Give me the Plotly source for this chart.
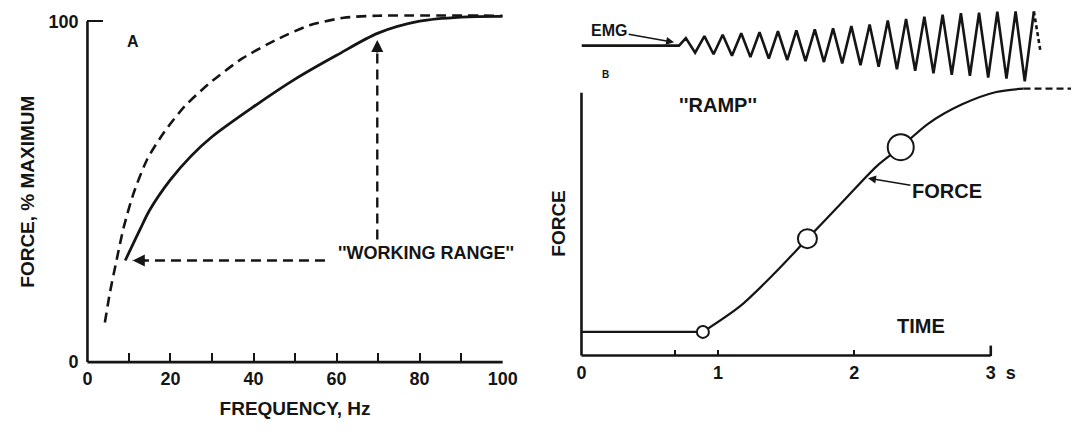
import plotly.graph_objects as go

# ---------------- Panel A data (frequency vs force, % max) ----------------
freq_solid = [9.1, 12.7, 15, 20, 25, 30, 40, 50, 60, 70, 80, 90, 100]
force_solid = [29.8, 39.0, 44.6, 53.5, 60.5, 66.1, 74.9, 83.0, 90.0, 96.5, 100.0, 101.2, 101.4]

freq_dashed = [4.2, 5.4, 7.0, 8.7, 11.1, 14.4, 18.5, 23.4, 29.1, 37.2, 45.4, 53.5, 61.7, 69.8, 100]
force_dashed = [11.6, 20.3, 29.8, 39.4, 49.5, 59.5, 67.5, 75.0, 81.5, 89.0, 94.5, 98.8, 101.0, 101.6, 101.6]

# "working range" arrows
wr_h_x = [57.2, 10.9]
wr_h_y = [29.8, 29.8]
wr_v_x = [69.8, 69.8]
wr_v_y = [36.0, 93.5]

freq_ticks = [0, 10, 20, 30, 40, 50, 60, 70, 80, 90, 100]
freq_ticktext = ["0", "", "20", "", "40", "", "60", "", "80", "", "100"]

# ---------------- Panel B data (ramp force vs time) ----------------
t_flat = [0, 0.89]
f_flat = [9.0, 9.0]
t_ramp = [0.89, 1.163, 1.413, 1.656, 1.914, 2.165, 2.34, 2.54, 2.79, 3.04, 3.24]
f_ramp = [9.0, 18.8, 31.2, 44.5, 58.5, 72.1, 79.3, 88.2, 95.6, 100.3, 101.6]
t_plateau = [3.24, 3.588]
f_plateau = [101.6, 101.6]

t_circles = [0.89, 1.656, 2.34]
f_circles = [9.0, 44.5, 79.3]
circle_sizes = [12, 19, 26]

time_ticks = [0, 0.685, 1, 2, 3]
time_ticktext = ["0", "", "1", "2", "\u00a0\u00a0\u00a0\u00a03\u00a0\u00a0s"]

# EMG trace (time s, arbitrary amplitude)
emg_t = [0, 0.715, 0.765, 0.833, 0.901, 0.968, 1.035, 1.103, 1.171, 1.238, 1.305, 1.373,
         1.440, 1.508, 1.575, 1.642, 1.710, 1.777, 1.844, 1.911, 1.978, 2.045, 2.112,
         2.178, 2.245, 2.312, 2.379, 2.446, 2.513, 2.580, 2.647, 2.714, 2.781, 2.847,
         2.914, 2.981, 3.048, 3.115, 3.182, 3.249, 3.316]
emg_v = [0, 0, 7.7, -7.3, 9.7, -8.8, 11.2, -10.3, 12.7, -11.8, 13.7, -13.3,
         14.7, -14.8, 15.7, -15.8, 16.7, -16.8, 17.7, -18.3, 20.0, -20.0, 21.7,
         -21.6, 25.7, -24.3, 27.2, -25.8, 29.7, -28.3, 31.7, -30.0, 33.2, -30.8,
         33.7, -32.8, 34.7, -33.8, 35.0, -36.6, 35.0]
emg_tail_t = [3.316, 3.365]
emg_tail_v = [35.0, -6.6]

INK = "#151515"
FONT = "Liberation Sans"
DASH = "10px,6px"

# axis ranges / domains
XA_RANGE = [0, 100]
YA_RANGE = [0, 104]
XB_RANGE = [0, 3.588]
YB_RANGE = [0, 103]

fig = go.Figure()

# Panel A traces
fig.add_trace(go.Scatter(x=freq_dashed, y=force_dashed, mode="lines", xaxis="x", yaxis="y",
                         line=dict(color=INK, width=2.6, dash=DASH, shape="spline", smoothing=0.7),
                         showlegend=False, hoverinfo="skip"))
fig.add_trace(go.Scatter(x=freq_solid, y=force_solid, mode="lines", xaxis="x", yaxis="y",
                         line=dict(color=INK, width=2.8, shape="spline", smoothing=0.9),
                         showlegend=False, hoverinfo="skip"))
fig.add_trace(go.Scatter(x=wr_h_x, y=wr_h_y, mode="lines", xaxis="x", yaxis="y",
                         line=dict(color=INK, width=2.4, dash=DASH),
                         showlegend=False, hoverinfo="skip"))
fig.add_trace(go.Scatter(x=wr_v_x, y=wr_v_y, mode="lines", xaxis="x", yaxis="y",
                         line=dict(color=INK, width=2.4, dash=DASH),
                         showlegend=False, hoverinfo="skip"))

# Panel B traces
fig.add_trace(go.Scatter(x=t_flat, y=f_flat, mode="lines", xaxis="x2", yaxis="y2",
                         line=dict(color=INK, width=2.2), showlegend=False, hoverinfo="skip"))
fig.add_trace(go.Scatter(x=t_ramp, y=f_ramp, mode="lines", xaxis="x2", yaxis="y2",
                         line=dict(color=INK, width=2.2, shape="spline", smoothing=0.8),
                         showlegend=False, hoverinfo="skip"))
fig.add_trace(go.Scatter(x=t_plateau, y=f_plateau, mode="lines", xaxis="x2", yaxis="y2",
                         line=dict(color=INK, width=2.2, dash="7px,4px"),
                         showlegend=False, hoverinfo="skip"))
fig.add_trace(go.Scatter(x=t_circles, y=f_circles, mode="markers", xaxis="x2", yaxis="y2",
                         opacity=1,
                         marker=dict(symbol="circle", size=circle_sizes, color="#ffffff",
                                     opacity=1, line=dict(color=INK, width=2)),
                         showlegend=False, hoverinfo="skip", cliponaxis=False))
fig.add_trace(go.Scatter(x=emg_t, y=emg_v, mode="lines", xaxis="x3", yaxis="y3",
                         line=dict(color=INK, width=2.6), showlegend=False, hoverinfo="skip"))
fig.add_trace(go.Scatter(x=emg_tail_t, y=emg_tail_v, mode="lines", xaxis="x3", yaxis="y3",
                         line=dict(color=INK, width=2.6, dash="4px,3px"),
                         showlegend=False, hoverinfo="skip"))

tickfont = dict(family=FONT, size=18, color=INK, weight="bold")
titlefont = dict(family=FONT, size=19, color=INK, weight="bold")

ya100 = 100 / YA_RANGE[1]
xb3 = 3 / XB_RANGE[1]
yb100 = 100 / YB_RANGE[1]
yb_tick3 = 3.8 / YB_RANGE[1]
AX = dict(color=INK, width=2.6)
# axis lines drawn as (unclipped) domain-referenced shapes so they stop at the labelled ends
shapes = [
    dict(type="line", xref="x domain", yref="y domain", x0=0, y0=0, x1=0, y1=ya100, line=AX),
    dict(type="line", xref="x domain", yref="y domain", x0=0, y0=0, x1=1, y1=0, line=AX),
    dict(type="line", xref="x2 domain", yref="y2 domain", x0=0, y0=0, x1=0, y1=yb100, line=AX),
    dict(type="line", xref="x2 domain", yref="y2 domain", x0=0, y0=0, x1=xb3, y1=0, line=AX),
    dict(type="line", xref="x2 domain", yref="y2 domain", x0=xb3, y0=0, x1=xb3, y1=yb_tick3, line=AX),
]

annotations = [
    dict(text="A", x=10.9, y=93.9, xref="x", yref="y", showarrow=False,
         font=dict(family=FONT, size=16, color=INK, weight="bold")),
    dict(text="''WORKING RANGE''", x=81.5, y=31.9, xref="x", yref="y", showarrow=False,
         font=dict(family=FONT, size=18, color=INK, weight="bold")),
    # arrowheads of the working-range arrows
    dict(text="", x=10.9, y=29.8, xref="x", yref="y", ax=14, ay=0, showarrow=True,
         arrowhead=2, arrowsize=1.1, arrowwidth=2.2, arrowcolor=INK),
    dict(text="", x=69.8, y=94.5, xref="x", yref="y", ax=0, ay=14, showarrow=True,
         arrowhead=2, arrowsize=1.1, arrowwidth=2.2, arrowcolor=INK),
    dict(text="FORCE, % MAXIMUM", x=23 / 1086, y=1 - 196.7 / 432, xref="paper", yref="paper",
         xanchor="center", yanchor="middle",
         showarrow=False, textangle=-90, font=titlefont),
    dict(text="FORCE", x=564.4 / 1086, y=1 - 229 / 432, xref="paper", yref="paper",
         xanchor="center", yanchor="middle",
         showarrow=False, textangle=-90, font=titlefont),
    dict(text="B", x=611.4 / 1086, y=1 - 76 / 432, xref="paper", yref="paper", showarrow=False,
         xanchor="center", yanchor="middle",
         font=dict(family=FONT, size=10, color=INK, weight="bold")),
    dict(text="''RAMP''", x=1.0, y=95.2, xref="x2", yref="y2", showarrow=False,
         font=dict(family=FONT, size=20, color=INK, weight="bold")),
    dict(text="TIME", x=2.49, y=11.4, xref="x2", yref="y2", showarrow=False,
         font=dict(family=FONT, size=20, color=INK, weight="bold")),
    dict(text="FORCE", x=2.10, y=67.5, xref="x2", yref="y2", ax=79, ay=13,
         showarrow=True, arrowhead=2, arrowsize=1, arrowwidth=1.6, arrowcolor=INK,
         font=dict(family=FONT, size=20, color=INK, weight="bold")),
    dict(text="EMG", x=681.7 / 1086, y=1 - 43.3 / 432, xref="paper", yref="paper",
         ax=-65, ay=-11.6, showarrow=True, arrowhead=2, arrowsize=1, arrowwidth=1.6,
         arrowcolor=INK, font=dict(family=FONT, size=16, color=INK, weight="bold")),
]

fig.update_layout(
    width=1086, height=432,
    margin=dict(l=0, r=0, t=0, b=0),
    paper_bgcolor="white", plot_bgcolor="white",
    showlegend=False,
    xaxis=dict(domain=[84 / 1086, 507 / 1086], range=XA_RANGE, showgrid=False, zeroline=False,
               showline=False, ticks="inside", ticklen=9, tickwidth=2.4, tickcolor=INK,
               tickvals=freq_ticks, ticktext=freq_ticktext, tickfont=tickfont,
               ticklabelstandoff=4, anchor="y",
               title=dict(text="FREQUENCY, Hz", font=titlefont, standoff=13)),
    yaxis=dict(domain=[1 - 370.7 / 432, 1 - 7.74 / 432], range=YA_RANGE, showgrid=False,
               zeroline=False, showline=False, ticks="inside", ticklen=16, tickwidth=2.4,
               tickcolor=INK, tickvals=[0, 100], ticktext=["0", "100"], tickfont=tickfont,
               ticklabelstandoff=8, anchor="x"),
    xaxis2=dict(domain=[587.3 / 1086, 1.0], range=XB_RANGE, showgrid=False, zeroline=False,
                showline=False, ticks="inside", ticklen=6, tickwidth=2.4, tickcolor=INK,
                tickvals=time_ticks, ticktext=time_ticktext, tickfont=tickfont,
                ticklabelstandoff=4, anchor="y2"),
    yaxis2=dict(domain=[1 - 364 / 432, 1 - 86.9 / 432], range=YB_RANGE, showgrid=False,
                zeroline=False, showline=False, showticklabels=False, ticks="", anchor="x2"),
    xaxis3=dict(domain=[587.3 / 1086, 1.0], range=XB_RANGE, visible=False, anchor="y3"),
    yaxis3=dict(domain=[1 - 86.9 / 432, 1.0], range=[-40.2, 46.7], visible=False, anchor="x3"),
    shapes=shapes,
    annotations=annotations,
)

fig.write_html("out.html")
